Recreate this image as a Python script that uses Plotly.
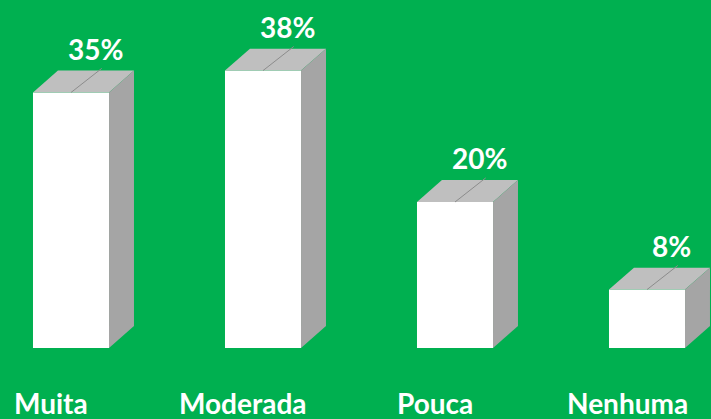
import plotly.graph_objects as go

categories = ["Muita", "Moderada", "Pouca", "Nenhuma"]
values = [35, 38, 20, 8]
labels = ["35%", "38%", "20%", "8%"]

BG = "#00B050"
FRONT = "#FFFFFF"
TOP = "#BFBFBF"
SIDE = "#A5A5A5"
SEAM = "#8C8C8C"
FONT = "Lato"

half_w = 0.198   # half front width (x units)
dx = 0.13        # depth in x units
dy = 3.0         # depth in y units

fig = go.Figure()
for i, v in enumerate(values):
    x0, x1 = i - half_w, i + half_w
    # front
    fig.add_trace(go.Scatter(x=[x0, x1, x1, x0, x0], y=[0, 0, v, v, 0], fill="toself",
                             fillcolor=FRONT, line=dict(width=0), mode="lines", hoverinfo="skip"))
    # top
    fig.add_trace(go.Scatter(x=[x0, x1, x1 + dx, x0 + dx, x0], y=[v, v, v + dy, v + dy, v], fill="toself",
                             fillcolor=TOP, line=dict(width=0), mode="lines", hoverinfo="skip"))
    # side
    fig.add_trace(go.Scatter(x=[x1, x1 + dx, x1 + dx, x1, x1], y=[0, dy, v + dy, v, 0], fill="toself",
                             fillcolor=SIDE, line=dict(width=0), mode="lines", hoverinfo="skip"))
    # leader line on top
    fig.add_trace(go.Scatter(x=[i, i + 0.16], y=[v, v + dy + 0.3], mode="lines",
                             line=dict(color=SEAM, width=1), hoverinfo="skip"))
    # value label
    fig.add_annotation(x=i + 0.125, y=v + dy + 3.0, text="<b>" + labels[i] + "</b>", showarrow=False,
                       font=dict(family=FONT, size=28, color="white"), yanchor="middle")
    # category label
    fig.add_annotation(x=i - 0.104, y=-7.5, text="<b>" + categories[i] + "</b>", showarrow=False,
                       font=dict(family=FONT, size=28, color="white"), yanchor="middle")

fig.update_layout(
    width=711, height=419,
    margin=dict(l=0, r=0, t=0, b=0),
    paper_bgcolor=BG, plot_bgcolor=BG,
    showlegend=False,
    xaxis=dict(range=[-0.3698, 3.3333], visible=False, fixedrange=True),
    yaxis=dict(range=[-9.726, 47.67], visible=False, fixedrange=True),
)
fig.write_html("out.html", config={"displayModeBar": False},
               post_script="document.body.style.margin='0';document.body.style.background='" + BG + "';")
